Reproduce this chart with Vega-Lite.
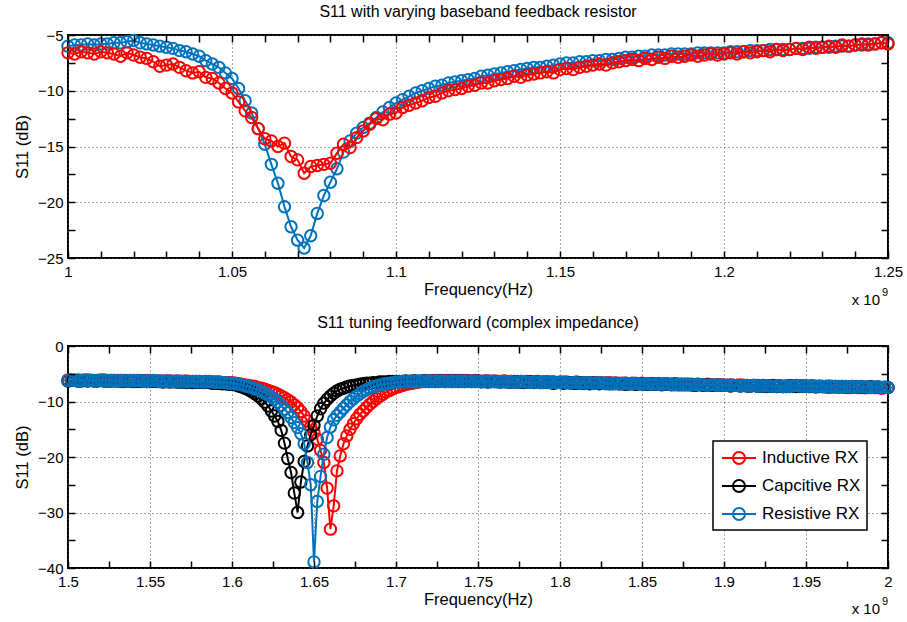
{
"$schema": "https://vega.github.io/schema/vega-lite/v6.json",
"padding": {"left": 13, "top": 3, "right": 5, "bottom": 5},
"config": {
  "font": "Liberation Sans",
  "view": {"stroke": "#000000", "strokeWidth": 2},
  "axis": {"labelFontSize": 15, "titleFontSize": 16.5, "titleFontWeight": "normal", "labelColor": "#000", "titleColor": "#000", "ticks": false, "tickSize": 0, "zindex": 0, "domain": false, "labelOverlap": false, "labelFlush": false, "labelBound": false, "gridColor": "#555", "gridDash": [1, 3], "gridWidth": 1}
},
"datasets": {
"fbB": [
{"f":1.000,"v":-6.0},{"f":1.002,"v":-5.9},{"f":1.004,"v":-5.9},{"f":1.006,"v":-5.8},{"f":1.008,"v":-5.9},{"f":1.010,"v":-5.8},{"f":1.012,"v":-5.8},{"f":1.014,"v":-5.7},{"f":1.016,"v":-5.7},{"f":1.018,"v":-5.6},
{"f":1.020,"v":-5.5},{"f":1.022,"v":-5.7},{"f":1.024,"v":-5.8},{"f":1.026,"v":-5.9},{"f":1.028,"v":-6.0},{"f":1.030,"v":-6.1},{"f":1.032,"v":-6.2},{"f":1.034,"v":-6.4},{"f":1.036,"v":-6.5},{"f":1.038,"v":-6.7},
{"f":1.040,"v":-6.9},{"f":1.042,"v":-7.3},{"f":1.044,"v":-7.6},{"f":1.046,"v":-7.9},{"f":1.048,"v":-8.4},{"f":1.050,"v":-8.9},{"f":1.052,"v":-9.8},{"f":1.054,"v":-10.9},{"f":1.056,"v":-12.0},{"f":1.058,"v":-13.4},
{"f":1.060,"v":-14.8},{"f":1.062,"v":-16.6},{"f":1.064,"v":-18.3},{"f":1.066,"v":-20.4},{"f":1.068,"v":-22.2},{"f":1.070,"v":-23.4},{"f":1.072,"v":-24.1},{"f":1.074,"v":-23.0},{"f":1.076,"v":-21.0},{"f":1.078,"v":-19.4},
{"f":1.080,"v":-18.2},{"f":1.082,"v":-17.0},{"f":1.084,"v":-15.5},{"f":1.086,"v":-14.5},{"f":1.088,"v":-13.8},{"f":1.090,"v":-13.3},{"f":1.092,"v":-12.9},{"f":1.094,"v":-12.4},{"f":1.096,"v":-11.9},{"f":1.098,"v":-11.5},
{"f":1.100,"v":-11.1},{"f":1.102,"v":-10.8},{"f":1.104,"v":-10.5},{"f":1.106,"v":-10.2},{"f":1.108,"v":-10.0},{"f":1.110,"v":-9.8},{"f":1.112,"v":-9.6},{"f":1.114,"v":-9.5},{"f":1.116,"v":-9.3},{"f":1.118,"v":-9.2},
{"f":1.120,"v":-9.1},{"f":1.122,"v":-9.0},{"f":1.124,"v":-8.9},{"f":1.126,"v":-8.7},{"f":1.128,"v":-8.6},{"f":1.130,"v":-8.5},{"f":1.132,"v":-8.4},{"f":1.134,"v":-8.3},{"f":1.136,"v":-8.2},{"f":1.138,"v":-8.1},
{"f":1.140,"v":-8.0},{"f":1.142,"v":-7.9},{"f":1.144,"v":-7.9},{"f":1.146,"v":-7.8},{"f":1.148,"v":-7.7},{"f":1.150,"v":-7.6},{"f":1.152,"v":-7.5},{"f":1.154,"v":-7.5},{"f":1.156,"v":-7.4},{"f":1.158,"v":-7.4},
{"f":1.160,"v":-7.3},{"f":1.162,"v":-7.3},{"f":1.164,"v":-7.2},{"f":1.166,"v":-7.2},{"f":1.168,"v":-7.1},{"f":1.170,"v":-7.0},{"f":1.172,"v":-7.0},{"f":1.174,"v":-6.9},{"f":1.176,"v":-6.9},{"f":1.178,"v":-6.8},
{"f":1.180,"v":-6.8},{"f":1.182,"v":-6.8},{"f":1.184,"v":-6.7},{"f":1.186,"v":-6.7},{"f":1.188,"v":-6.7},{"f":1.190,"v":-6.7},{"f":1.192,"v":-6.6},{"f":1.194,"v":-6.6},{"f":1.196,"v":-6.6},{"f":1.198,"v":-6.6},
{"f":1.200,"v":-6.6},{"f":1.202,"v":-6.5},{"f":1.204,"v":-6.5},{"f":1.206,"v":-6.5},{"f":1.208,"v":-6.4},{"f":1.210,"v":-6.4},{"f":1.212,"v":-6.4},{"f":1.214,"v":-6.3},{"f":1.216,"v":-6.3},{"f":1.218,"v":-6.3},
{"f":1.220,"v":-6.3},{"f":1.222,"v":-6.2},{"f":1.224,"v":-6.2},{"f":1.226,"v":-6.2},{"f":1.228,"v":-6.1},{"f":1.230,"v":-6.1},{"f":1.232,"v":-6.1},{"f":1.234,"v":-6.0},{"f":1.236,"v":-6.0},{"f":1.238,"v":-6.0},
{"f":1.240,"v":-5.9},{"f":1.242,"v":-5.9},{"f":1.244,"v":-5.8},{"f":1.246,"v":-5.8},{"f":1.248,"v":-5.7},{"f":1.250,"v":-5.7}
],
"fbR": [
{"f":1.000,"v":-6.6},{"f":1.002,"v":-6.7},{"f":1.004,"v":-6.5},{"f":1.006,"v":-6.6},{"f":1.008,"v":-6.7},{"f":1.010,"v":-6.5},{"f":1.012,"v":-6.6},{"f":1.014,"v":-6.7},{"f":1.016,"v":-6.9},{"f":1.018,"v":-6.6},
{"f":1.020,"v":-6.8},{"f":1.022,"v":-7.0},{"f":1.024,"v":-7.1},{"f":1.026,"v":-7.4},{"f":1.028,"v":-7.8},{"f":1.030,"v":-7.7},{"f":1.032,"v":-7.6},{"f":1.034,"v":-7.9},{"f":1.036,"v":-8.2},{"f":1.038,"v":-8.4},
{"f":1.040,"v":-8.3},{"f":1.042,"v":-8.8},{"f":1.044,"v":-8.9},{"f":1.046,"v":-9.3},{"f":1.048,"v":-9.8},{"f":1.050,"v":-10.2},{"f":1.052,"v":-11.0},{"f":1.054,"v":-11.8},{"f":1.056,"v":-12.4},{"f":1.058,"v":-13.4},
{"f":1.060,"v":-14.3},{"f":1.062,"v":-14.5},{"f":1.064,"v":-15.0},{"f":1.066,"v":-14.7},{"f":1.068,"v":-15.9},{"f":1.070,"v":-16.2},{"f":1.072,"v":-17.4},{"f":1.074,"v":-16.8},{"f":1.076,"v":-16.7},{"f":1.078,"v":-16.6},
{"f":1.080,"v":-16.5},{"f":1.082,"v":-15.6},{"f":1.084,"v":-14.8},{"f":1.086,"v":-15.1},{"f":1.088,"v":-14.2},{"f":1.090,"v":-13.6},{"f":1.092,"v":-13.0},{"f":1.094,"v":-12.5},{"f":1.096,"v":-12.6},{"f":1.098,"v":-12.1},
{"f":1.100,"v":-12.0},{"f":1.102,"v":-11.5},{"f":1.104,"v":-11.3},{"f":1.106,"v":-11.1},{"f":1.108,"v":-10.9},{"f":1.110,"v":-10.6},{"f":1.112,"v":-10.5},{"f":1.114,"v":-10.2},{"f":1.116,"v":-10.0},{"f":1.118,"v":-9.9},
{"f":1.120,"v":-9.8},{"f":1.122,"v":-9.6},{"f":1.124,"v":-9.5},{"f":1.126,"v":-9.3},{"f":1.128,"v":-9.3},{"f":1.130,"v":-9.1},{"f":1.132,"v":-9.0},{"f":1.134,"v":-8.9},{"f":1.136,"v":-8.7},{"f":1.138,"v":-8.8},
{"f":1.140,"v":-8.6},{"f":1.142,"v":-8.5},{"f":1.144,"v":-8.4},{"f":1.146,"v":-8.3},{"f":1.148,"v":-8.4},{"f":1.150,"v":-8.1},{"f":1.152,"v":-8.0},{"f":1.154,"v":-8.1},{"f":1.156,"v":-7.9},{"f":1.158,"v":-7.8},
{"f":1.160,"v":-7.7},{"f":1.162,"v":-7.6},{"f":1.164,"v":-7.7},{"f":1.166,"v":-7.5},{"f":1.168,"v":-7.4},{"f":1.170,"v":-7.3},{"f":1.172,"v":-7.2},{"f":1.174,"v":-7.3},{"f":1.176,"v":-7.1},{"f":1.178,"v":-7.2},
{"f":1.180,"v":-7.0},{"f":1.182,"v":-7.1},{"f":1.184,"v":-6.9},{"f":1.186,"v":-7.0},{"f":1.188,"v":-6.9},{"f":1.190,"v":-6.8},{"f":1.192,"v":-6.9},{"f":1.194,"v":-6.8},{"f":1.196,"v":-6.7},{"f":1.198,"v":-6.8},
{"f":1.200,"v":-6.7},{"f":1.202,"v":-6.6},{"f":1.204,"v":-6.7},{"f":1.206,"v":-6.5},{"f":1.208,"v":-6.6},{"f":1.210,"v":-6.5},{"f":1.212,"v":-6.4},{"f":1.214,"v":-6.5},{"f":1.216,"v":-6.3},{"f":1.218,"v":-6.4},
{"f":1.220,"v":-6.3},{"f":1.222,"v":-6.2},{"f":1.224,"v":-6.3},{"f":1.226,"v":-6.1},{"f":1.228,"v":-6.2},{"f":1.230,"v":-6.1},{"f":1.232,"v":-6.0},{"f":1.234,"v":-6.1},{"f":1.236,"v":-5.9},{"f":1.238,"v":-6.0},
{"f":1.240,"v":-5.9},{"f":1.242,"v":-5.8},{"f":1.244,"v":-5.9},{"f":1.246,"v":-5.8},{"f":1.248,"v":-5.7},{"f":1.250,"v":-5.8}
],
"ind": [
{"f":1.500,"v":-6.1},{"f":1.502,"v":-6.2},{"f":1.504,"v":-6.2},{"f":1.506,"v":-6.1},{"f":1.508,"v":-6.2},{"f":1.510,"v":-6.2},{"f":1.512,"v":-6.1},{"f":1.514,"v":-6.2},{"f":1.516,"v":-6.2},{"f":1.518,"v":-6.2},
{"f":1.520,"v":-6.2},{"f":1.522,"v":-6.1},{"f":1.524,"v":-6.2},{"f":1.526,"v":-6.2},{"f":1.528,"v":-6.3},{"f":1.530,"v":-6.2},{"f":1.532,"v":-6.2},{"f":1.534,"v":-6.2},{"f":1.536,"v":-6.3},{"f":1.538,"v":-6.2},
{"f":1.540,"v":-6.2},{"f":1.542,"v":-6.3},{"f":1.544,"v":-6.2},{"f":1.546,"v":-6.3},{"f":1.548,"v":-6.3},{"f":1.550,"v":-6.2},{"f":1.552,"v":-6.3},{"f":1.554,"v":-6.3},{"f":1.556,"v":-6.3},{"f":1.558,"v":-6.4},
{"f":1.560,"v":-6.3},{"f":1.562,"v":-6.3},{"f":1.564,"v":-6.4},{"f":1.566,"v":-6.3},{"f":1.568,"v":-6.4},{"f":1.570,"v":-6.4},{"f":1.572,"v":-6.3},{"f":1.574,"v":-6.4},{"f":1.576,"v":-6.4},{"f":1.578,"v":-6.4},
{"f":1.580,"v":-6.4},{"f":1.582,"v":-6.5},{"f":1.584,"v":-6.4},{"f":1.586,"v":-6.5},{"f":1.588,"v":-6.5},{"f":1.590,"v":-6.5},{"f":1.592,"v":-6.5},{"f":1.594,"v":-6.6},{"f":1.596,"v":-6.6},{"f":1.598,"v":-6.6},
{"f":1.600,"v":-6.6},{"f":1.602,"v":-6.7},{"f":1.604,"v":-6.8},{"f":1.606,"v":-6.9},{"f":1.608,"v":-7.0},{"f":1.610,"v":-7.1},{"f":1.612,"v":-7.2},{"f":1.614,"v":-7.3},{"f":1.616,"v":-7.5},{"f":1.618,"v":-7.6},
{"f":1.620,"v":-7.8},{"f":1.622,"v":-8.0},{"f":1.624,"v":-8.2},{"f":1.626,"v":-8.4},{"f":1.628,"v":-8.7},{"f":1.630,"v":-9.0},{"f":1.632,"v":-9.3},{"f":1.634,"v":-9.7},{"f":1.636,"v":-10.1},{"f":1.638,"v":-10.6},
{"f":1.640,"v":-11.1},{"f":1.642,"v":-11.8},{"f":1.644,"v":-12.6},{"f":1.646,"v":-13.5},{"f":1.648,"v":-14.5},{"f":1.650,"v":-15.6},{"f":1.652,"v":-16.8},{"f":1.654,"v":-18.8},{"f":1.656,"v":-21.0},{"f":1.658,"v":-25.6},
{"f":1.660,"v":-33.0},{"f":1.662,"v":-28.8},{"f":1.664,"v":-22.5},{"f":1.666,"v":-19.8},{"f":1.668,"v":-17.6},{"f":1.670,"v":-16.2},{"f":1.672,"v":-15.0},{"f":1.674,"v":-14.0},{"f":1.676,"v":-13.1},{"f":1.678,"v":-12.3},
{"f":1.680,"v":-11.7},{"f":1.682,"v":-11.1},{"f":1.684,"v":-10.5},{"f":1.686,"v":-10.0},{"f":1.688,"v":-9.5},{"f":1.690,"v":-9.1},{"f":1.692,"v":-8.7},{"f":1.694,"v":-8.3},{"f":1.696,"v":-8.0},{"f":1.698,"v":-7.7},
{"f":1.700,"v":-7.5},{"f":1.702,"v":-7.3},{"f":1.704,"v":-7.1},{"f":1.706,"v":-6.9},{"f":1.708,"v":-6.8},{"f":1.710,"v":-6.7},{"f":1.712,"v":-6.6},{"f":1.714,"v":-6.5},{"f":1.716,"v":-6.4},{"f":1.718,"v":-6.3},
{"f":1.720,"v":-6.3},{"f":1.722,"v":-6.3},{"f":1.724,"v":-6.2},{"f":1.726,"v":-6.3},{"f":1.728,"v":-6.2},{"f":1.730,"v":-6.2},{"f":1.732,"v":-6.3},{"f":1.734,"v":-6.2},{"f":1.736,"v":-6.3},{"f":1.738,"v":-6.2},
{"f":1.740,"v":-6.3},{"f":1.742,"v":-6.2},{"f":1.744,"v":-6.3},{"f":1.746,"v":-6.3},{"f":1.748,"v":-6.2},{"f":1.750,"v":-6.3},{"f":1.752,"v":-6.4},{"f":1.754,"v":-6.3},{"f":1.756,"v":-6.3},{"f":1.758,"v":-6.4},
{"f":1.760,"v":-6.3},{"f":1.762,"v":-6.4},{"f":1.764,"v":-6.4},{"f":1.766,"v":-6.3},{"f":1.768,"v":-6.4},{"f":1.770,"v":-6.4},{"f":1.772,"v":-6.5},{"f":1.774,"v":-6.4},{"f":1.776,"v":-6.4},{"f":1.778,"v":-6.5},
{"f":1.780,"v":-6.4},{"f":1.782,"v":-6.5},{"f":1.784,"v":-6.5},{"f":1.786,"v":-6.4},{"f":1.788,"v":-6.5},{"f":1.790,"v":-6.5},{"f":1.792,"v":-6.6},{"f":1.794,"v":-6.5},{"f":1.796,"v":-6.5},{"f":1.798,"v":-6.6},
{"f":1.800,"v":-6.5},{"f":1.802,"v":-6.6},{"f":1.804,"v":-6.5},{"f":1.806,"v":-6.6},{"f":1.808,"v":-6.6},{"f":1.810,"v":-6.5},{"f":1.812,"v":-6.6},{"f":1.814,"v":-6.6},{"f":1.816,"v":-6.7},{"f":1.818,"v":-6.6},
{"f":1.820,"v":-6.6},{"f":1.822,"v":-6.7},{"f":1.824,"v":-6.6},{"f":1.826,"v":-6.7},{"f":1.828,"v":-6.7},{"f":1.830,"v":-6.6},{"f":1.832,"v":-6.7},{"f":1.834,"v":-6.7},{"f":1.836,"v":-6.8},{"f":1.838,"v":-6.7},
{"f":1.840,"v":-6.7},{"f":1.842,"v":-6.8},{"f":1.844,"v":-6.7},{"f":1.846,"v":-6.8},{"f":1.848,"v":-6.8},{"f":1.850,"v":-6.7},{"f":1.852,"v":-6.8},{"f":1.854,"v":-6.8},{"f":1.856,"v":-6.9},{"f":1.858,"v":-6.8},
{"f":1.860,"v":-6.8},{"f":1.862,"v":-6.9},{"f":1.864,"v":-6.8},{"f":1.866,"v":-6.9},{"f":1.868,"v":-6.9},{"f":1.870,"v":-6.8},{"f":1.872,"v":-6.9},{"f":1.874,"v":-6.9},{"f":1.876,"v":-7.0},{"f":1.878,"v":-6.9},
{"f":1.880,"v":-6.9},{"f":1.882,"v":-7.0},{"f":1.884,"v":-6.9},{"f":1.886,"v":-7.0},{"f":1.888,"v":-7.0},{"f":1.890,"v":-6.9},{"f":1.892,"v":-7.0},{"f":1.894,"v":-7.0},{"f":1.896,"v":-7.1},{"f":1.898,"v":-7.0},
{"f":1.900,"v":-7.0},{"f":1.902,"v":-7.1},{"f":1.904,"v":-7.0},{"f":1.906,"v":-7.1},{"f":1.908,"v":-7.1},{"f":1.910,"v":-7.0},{"f":1.912,"v":-7.1},{"f":1.914,"v":-7.1},{"f":1.916,"v":-7.2},{"f":1.918,"v":-7.1},
{"f":1.920,"v":-7.1},{"f":1.922,"v":-7.2},{"f":1.924,"v":-7.1},{"f":1.926,"v":-7.2},{"f":1.928,"v":-7.2},{"f":1.930,"v":-7.1},{"f":1.932,"v":-7.2},{"f":1.934,"v":-7.2},{"f":1.936,"v":-7.3},{"f":1.938,"v":-7.2},
{"f":1.940,"v":-7.2},{"f":1.942,"v":-7.3},{"f":1.944,"v":-7.2},{"f":1.946,"v":-7.3},{"f":1.948,"v":-7.3},{"f":1.950,"v":-7.2},{"f":1.952,"v":-7.3},{"f":1.954,"v":-7.3},{"f":1.956,"v":-7.4},{"f":1.958,"v":-7.3},
{"f":1.960,"v":-7.3},{"f":1.962,"v":-7.4},{"f":1.964,"v":-7.3},{"f":1.966,"v":-7.4},{"f":1.968,"v":-7.4},{"f":1.970,"v":-7.3},{"f":1.972,"v":-7.4},{"f":1.974,"v":-7.4},{"f":1.976,"v":-7.5},{"f":1.978,"v":-7.4},
{"f":1.980,"v":-7.4},{"f":1.982,"v":-7.5},{"f":1.984,"v":-7.4},{"f":1.986,"v":-7.5},{"f":1.988,"v":-7.5},{"f":1.990,"v":-7.4},{"f":1.992,"v":-7.5},{"f":1.994,"v":-7.5},{"f":1.996,"v":-7.6},{"f":1.998,"v":-7.5},
{"f":2.000,"v":-7.5}
],
"cap": [
{"f":1.500,"v":-6.3},{"f":1.502,"v":-6.2},{"f":1.504,"v":-6.2},{"f":1.506,"v":-6.3},{"f":1.508,"v":-6.3},{"f":1.510,"v":-6.2},{"f":1.512,"v":-6.3},{"f":1.514,"v":-6.2},{"f":1.516,"v":-6.3},{"f":1.518,"v":-6.3},
{"f":1.520,"v":-6.2},{"f":1.522,"v":-6.3},{"f":1.524,"v":-6.3},{"f":1.526,"v":-6.3},{"f":1.528,"v":-6.2},{"f":1.530,"v":-6.3},{"f":1.532,"v":-6.3},{"f":1.534,"v":-6.4},{"f":1.536,"v":-6.3},{"f":1.538,"v":-6.3},
{"f":1.540,"v":-6.4},{"f":1.542,"v":-6.3},{"f":1.544,"v":-6.4},{"f":1.546,"v":-6.3},{"f":1.548,"v":-6.4},{"f":1.550,"v":-6.4},{"f":1.552,"v":-6.3},{"f":1.554,"v":-6.4},{"f":1.556,"v":-6.4},{"f":1.558,"v":-6.5},
{"f":1.560,"v":-6.4},{"f":1.562,"v":-6.5},{"f":1.564,"v":-6.4},{"f":1.566,"v":-6.5},{"f":1.568,"v":-6.5},{"f":1.570,"v":-6.5},{"f":1.572,"v":-6.6},{"f":1.574,"v":-6.5},{"f":1.576,"v":-6.6},{"f":1.578,"v":-6.6},
{"f":1.580,"v":-6.5},{"f":1.582,"v":-6.6},{"f":1.584,"v":-6.6},{"f":1.586,"v":-6.6},{"f":1.588,"v":-6.7},{"f":1.590,"v":-6.7},{"f":1.592,"v":-6.7},{"f":1.594,"v":-6.8},{"f":1.596,"v":-6.8},{"f":1.598,"v":-6.9},
{"f":1.600,"v":-6.9},{"f":1.602,"v":-7.0},{"f":1.604,"v":-7.2},{"f":1.606,"v":-7.4},{"f":1.608,"v":-7.6},{"f":1.610,"v":-7.9},{"f":1.612,"v":-8.2},{"f":1.614,"v":-8.6},{"f":1.616,"v":-9.0},{"f":1.618,"v":-9.5},
{"f":1.620,"v":-10.1},{"f":1.622,"v":-10.8},{"f":1.624,"v":-11.7},{"f":1.626,"v":-12.6},{"f":1.628,"v":-13.6},{"f":1.630,"v":-15.2},{"f":1.632,"v":-17.5},{"f":1.634,"v":-20.3},{"f":1.636,"v":-22.8},{"f":1.638,"v":-26.5},
{"f":1.640,"v":-30.0},{"f":1.642,"v":-24.5},{"f":1.644,"v":-20.8},{"f":1.646,"v":-18.0},{"f":1.648,"v":-16.0},{"f":1.650,"v":-14.3},{"f":1.652,"v":-12.6},{"f":1.654,"v":-11.3},{"f":1.656,"v":-10.3},{"f":1.658,"v":-9.6},
{"f":1.660,"v":-9.0},{"f":1.662,"v":-8.5},{"f":1.664,"v":-8.1},{"f":1.666,"v":-7.8},{"f":1.668,"v":-7.6},{"f":1.670,"v":-7.4},{"f":1.672,"v":-7.2},{"f":1.674,"v":-7.1},{"f":1.676,"v":-7.0},{"f":1.678,"v":-6.9},
{"f":1.680,"v":-6.8},{"f":1.682,"v":-6.7},{"f":1.684,"v":-6.7},{"f":1.686,"v":-6.6},{"f":1.688,"v":-6.6},{"f":1.690,"v":-6.5},{"f":1.692,"v":-6.5},{"f":1.694,"v":-6.5},{"f":1.696,"v":-6.4},{"f":1.698,"v":-6.4},
{"f":1.700,"v":-6.4},
{"f":1.702,"v":-6.4},{"f":1.704,"v":-6.4},{"f":1.706,"v":-6.3},{"f":1.708,"v":-6.4},{"f":1.710,"v":-6.3},{"f":1.712,"v":-6.3},{"f":1.714,"v":-6.4},{"f":1.716,"v":-6.3},{"f":1.718,"v":-6.3},{"f":1.720,"v":-6.4},
{"f":1.722,"v":-6.3},{"f":1.724,"v":-6.4},{"f":1.726,"v":-6.3},{"f":1.728,"v":-6.3},{"f":1.730,"v":-6.4},{"f":1.732,"v":-6.3},{"f":1.734,"v":-6.4},{"f":1.736,"v":-6.3},{"f":1.738,"v":-6.4},{"f":1.740,"v":-6.3},
{"f":1.742,"v":-6.4},{"f":1.744,"v":-6.3},{"f":1.746,"v":-6.4},{"f":1.748,"v":-6.4},{"f":1.750,"v":-6.3},{"f":1.752,"v":-6.4},{"f":1.754,"v":-6.4},{"f":1.756,"v":-6.5},{"f":1.758,"v":-6.4},{"f":1.760,"v":-6.4},
{"f":1.762,"v":-6.4},{"f":1.764,"v":-6.5},{"f":1.766,"v":-6.4},{"f":1.768,"v":-6.5},{"f":1.770,"v":-6.5},{"f":1.772,"v":-6.4},{"f":1.774,"v":-6.5},{"f":1.776,"v":-6.5},{"f":1.778,"v":-6.6},{"f":1.780,"v":-6.5},
{"f":1.782,"v":-6.5},{"f":1.784,"v":-6.6},{"f":1.786,"v":-6.5},{"f":1.788,"v":-6.6},{"f":1.790,"v":-6.6},{"f":1.792,"v":-6.5},{"f":1.794,"v":-6.6},{"f":1.796,"v":-6.7},{"f":1.798,"v":-6.6},{"f":1.800,"v":-6.6},
{"f":1.802,"v":-6.7},{"f":1.804,"v":-6.6},{"f":1.806,"v":-6.6},{"f":1.808,"v":-6.7},{"f":1.810,"v":-6.7},{"f":1.812,"v":-6.6},{"f":1.814,"v":-6.7},{"f":1.816,"v":-6.7},{"f":1.818,"v":-6.8},{"f":1.820,"v":-6.7},
{"f":1.822,"v":-6.7},{"f":1.824,"v":-6.8},{"f":1.826,"v":-6.7},{"f":1.828,"v":-6.7},{"f":1.830,"v":-6.8},{"f":1.832,"v":-6.8},{"f":1.834,"v":-6.7},{"f":1.836,"v":-6.8},{"f":1.838,"v":-6.8},{"f":1.840,"v":-6.9},
{"f":1.842,"v":-6.8},{"f":1.844,"v":-6.8},{"f":1.846,"v":-6.9},{"f":1.848,"v":-6.8},{"f":1.850,"v":-6.8},{"f":1.852,"v":-6.9},{"f":1.854,"v":-6.9},{"f":1.856,"v":-6.8},{"f":1.858,"v":-6.9},{"f":1.860,"v":-6.9},
{"f":1.862,"v":-7.0},{"f":1.864,"v":-6.9},{"f":1.866,"v":-6.9},{"f":1.868,"v":-7.0},{"f":1.870,"v":-6.9},{"f":1.872,"v":-7.0},{"f":1.874,"v":-7.0},{"f":1.876,"v":-6.9},{"f":1.878,"v":-7.0},{"f":1.880,"v":-7.0},
{"f":1.882,"v":-7.1},{"f":1.884,"v":-7.0},{"f":1.886,"v":-7.0},{"f":1.888,"v":-7.1},{"f":1.890,"v":-7.0},{"f":1.892,"v":-7.1},{"f":1.894,"v":-7.1},{"f":1.896,"v":-7.0},{"f":1.898,"v":-7.1},{"f":1.900,"v":-7.1},
{"f":1.902,"v":-7.1},{"f":1.904,"v":-7.2},{"f":1.906,"v":-7.1},{"f":1.908,"v":-7.1},{"f":1.910,"v":-7.2},{"f":1.912,"v":-7.1},{"f":1.914,"v":-7.2},{"f":1.916,"v":-7.2},{"f":1.918,"v":-7.1},{"f":1.920,"v":-7.2},
{"f":1.922,"v":-7.2},{"f":1.924,"v":-7.2},{"f":1.926,"v":-7.3},{"f":1.928,"v":-7.2},{"f":1.930,"v":-7.2},{"f":1.932,"v":-7.3},{"f":1.934,"v":-7.2},{"f":1.936,"v":-7.3},{"f":1.938,"v":-7.3},{"f":1.940,"v":-7.2},
{"f":1.942,"v":-7.2},{"f":1.944,"v":-7.3},{"f":1.946,"v":-7.2},{"f":1.948,"v":-7.2},{"f":1.950,"v":-7.3},{"f":1.952,"v":-7.3},{"f":1.954,"v":-7.2},{"f":1.956,"v":-7.3},{"f":1.958,"v":-7.3},{"f":1.960,"v":-7.3},
{"f":1.962,"v":-7.3},{"f":1.964,"v":-7.4},{"f":1.966,"v":-7.3},{"f":1.968,"v":-7.3},{"f":1.970,"v":-7.4},{"f":1.972,"v":-7.3},{"f":1.974,"v":-7.4},{"f":1.976,"v":-7.4},{"f":1.978,"v":-7.3},{"f":1.980,"v":-7.4},
{"f":1.982,"v":-7.4},{"f":1.984,"v":-7.4},{"f":1.986,"v":-7.5},{"f":1.988,"v":-7.4},{"f":1.990,"v":-7.4},{"f":1.992,"v":-7.5},{"f":1.994,"v":-7.4},{"f":1.996,"v":-7.5},{"f":1.998,"v":-7.5},{"f":2.000,"v":-7.5}
],
"res": [
{"f":1.500,"v":-6.2},{"f":1.502,"v":-6.1},{"f":1.504,"v":-6.2},{"f":1.506,"v":-6.3},{"f":1.508,"v":-6.2},{"f":1.510,"v":-6.1},{"f":1.512,"v":-6.2},{"f":1.514,"v":-6.2},{"f":1.516,"v":-6.3},{"f":1.518,"v":-6.2},
{"f":1.520,"v":-6.1},{"f":1.522,"v":-6.2},{"f":1.524,"v":-6.3},{"f":1.526,"v":-6.2},{"f":1.528,"v":-6.2},{"f":1.530,"v":-6.3},{"f":1.532,"v":-6.2},{"f":1.534,"v":-6.3},{"f":1.536,"v":-6.3},{"f":1.538,"v":-6.2},
{"f":1.540,"v":-6.3},{"f":1.542,"v":-6.2},{"f":1.544,"v":-6.3},{"f":1.546,"v":-6.3},{"f":1.548,"v":-6.4},{"f":1.550,"v":-6.3},{"f":1.552,"v":-6.2},{"f":1.554,"v":-6.3},{"f":1.556,"v":-6.4},{"f":1.558,"v":-6.3},
{"f":1.560,"v":-6.4},{"f":1.562,"v":-6.3},{"f":1.564,"v":-6.4},{"f":1.566,"v":-6.4},{"f":1.568,"v":-6.3},{"f":1.570,"v":-6.4},{"f":1.572,"v":-6.5},{"f":1.574,"v":-6.4},{"f":1.576,"v":-6.4},{"f":1.578,"v":-6.5},
{"f":1.580,"v":-6.4},{"f":1.582,"v":-6.5},{"f":1.584,"v":-6.5},{"f":1.586,"v":-6.4},{"f":1.588,"v":-6.5},{"f":1.590,"v":-6.6},{"f":1.592,"v":-6.5},{"f":1.594,"v":-6.6},{"f":1.596,"v":-6.6},{"f":1.598,"v":-6.7},
{"f":1.600,"v":-6.7},{"f":1.602,"v":-6.8},{"f":1.604,"v":-6.9},{"f":1.606,"v":-7.0},{"f":1.608,"v":-7.2},{"f":1.610,"v":-7.3},{"f":1.612,"v":-7.5},{"f":1.614,"v":-7.7},{"f":1.616,"v":-7.9},{"f":1.618,"v":-8.2},
{"f":1.620,"v":-8.5},{"f":1.622,"v":-8.8},{"f":1.624,"v":-9.2},{"f":1.626,"v":-9.6},{"f":1.628,"v":-10.1},{"f":1.630,"v":-10.7},{"f":1.632,"v":-11.4},{"f":1.634,"v":-12.0},{"f":1.636,"v":-12.9},{"f":1.638,"v":-13.8},
{"f":1.640,"v":-14.7},{"f":1.642,"v":-15.8},{"f":1.644,"v":-17.6},{"f":1.646,"v":-21.0},{"f":1.648,"v":-25.0},{"f":1.650,"v":-38.9},{"f":1.652,"v":-28.0},{"f":1.654,"v":-23.5},{"f":1.656,"v":-19.5},{"f":1.658,"v":-16.5},
{"f":1.660,"v":-14.6},{"f":1.662,"v":-13.3},{"f":1.664,"v":-12.5},{"f":1.666,"v":-11.9},{"f":1.668,"v":-11.2},{"f":1.670,"v":-10.6},{"f":1.672,"v":-10.0},{"f":1.674,"v":-9.5},{"f":1.676,"v":-9.0},{"f":1.678,"v":-8.6},
{"f":1.680,"v":-8.2},{"f":1.682,"v":-7.9},{"f":1.684,"v":-7.6},{"f":1.686,"v":-7.4},{"f":1.688,"v":-7.2},{"f":1.690,"v":-7.0},{"f":1.692,"v":-6.9},{"f":1.694,"v":-6.8},{"f":1.696,"v":-6.7},{"f":1.698,"v":-6.6},
{"f":1.700,"v":-6.5},
{"f":1.702,"v":-6.5},{"f":1.704,"v":-6.4},{"f":1.706,"v":-6.5},{"f":1.708,"v":-6.4},{"f":1.710,"v":-6.4},{"f":1.712,"v":-6.5},{"f":1.714,"v":-6.3},{"f":1.716,"v":-6.4},{"f":1.718,"v":-6.4},{"f":1.720,"v":-6.3},
{"f":1.722,"v":-6.4},{"f":1.724,"v":-6.3},{"f":1.726,"v":-6.4},{"f":1.728,"v":-6.3},{"f":1.730,"v":-6.4},{"f":1.732,"v":-6.4},{"f":1.734,"v":-6.3},{"f":1.736,"v":-6.4},{"f":1.738,"v":-6.3},{"f":1.740,"v":-6.4},
{"f":1.742,"v":-6.3},{"f":1.744,"v":-6.4},{"f":1.746,"v":-6.4},{"f":1.748,"v":-6.3},{"f":1.750,"v":-6.4},{"f":1.752,"v":-6.5},{"f":1.754,"v":-6.4},{"f":1.756,"v":-6.3},{"f":1.758,"v":-6.4},{"f":1.760,"v":-6.4},
{"f":1.762,"v":-6.5},{"f":1.764,"v":-6.4},{"f":1.766,"v":-6.4},{"f":1.768,"v":-6.5},{"f":1.770,"v":-6.4},{"f":1.772,"v":-6.5},{"f":1.774,"v":-6.5},{"f":1.776,"v":-6.4},{"f":1.778,"v":-6.5},{"f":1.780,"v":-6.5},
{"f":1.782,"v":-6.6},{"f":1.784,"v":-6.5},{"f":1.786,"v":-6.5},{"f":1.788,"v":-6.6},{"f":1.790,"v":-6.5},{"f":1.792,"v":-6.6},{"f":1.794,"v":-6.6},{"f":1.796,"v":-6.5},{"f":1.798,"v":-6.6},{"f":1.800,"v":-6.6},
{"f":1.802,"v":-6.5},{"f":1.804,"v":-6.6},{"f":1.806,"v":-6.7},{"f":1.808,"v":-6.6},{"f":1.810,"v":-6.6},{"f":1.812,"v":-6.7},{"f":1.814,"v":-6.6},{"f":1.816,"v":-6.7},{"f":1.818,"v":-6.6},{"f":1.820,"v":-6.7},
{"f":1.822,"v":-6.7},{"f":1.824,"v":-6.6},{"f":1.826,"v":-6.7},{"f":1.828,"v":-6.8},{"f":1.830,"v":-6.7},{"f":1.832,"v":-6.7},{"f":1.834,"v":-6.8},{"f":1.836,"v":-6.7},{"f":1.838,"v":-6.8},{"f":1.840,"v":-6.7},
{"f":1.842,"v":-6.8},{"f":1.844,"v":-6.8},{"f":1.846,"v":-6.7},{"f":1.848,"v":-6.8},{"f":1.850,"v":-6.9},{"f":1.852,"v":-6.8},{"f":1.854,"v":-6.8},{"f":1.856,"v":-6.9},{"f":1.858,"v":-6.8},{"f":1.860,"v":-6.9},
{"f":1.862,"v":-6.9},{"f":1.864,"v":-6.8},{"f":1.866,"v":-6.9},{"f":1.868,"v":-6.9},{"f":1.870,"v":-7.0},{"f":1.872,"v":-6.9},{"f":1.874,"v":-6.9},{"f":1.876,"v":-7.0},{"f":1.878,"v":-6.9},{"f":1.880,"v":-7.0},
{"f":1.882,"v":-7.0},{"f":1.884,"v":-6.9},{"f":1.886,"v":-7.0},{"f":1.888,"v":-7.0},{"f":1.890,"v":-7.1},{"f":1.892,"v":-7.0},{"f":1.894,"v":-7.0},{"f":1.896,"v":-7.1},{"f":1.898,"v":-7.0},{"f":1.900,"v":-7.1},
{"f":1.902,"v":-7.1},{"f":1.904,"v":-7.0},{"f":1.906,"v":-7.1},{"f":1.908,"v":-7.1},{"f":1.910,"v":-7.2},{"f":1.912,"v":-7.1},{"f":1.914,"v":-7.1},{"f":1.916,"v":-7.2},{"f":1.918,"v":-7.1},{"f":1.920,"v":-7.2},
{"f":1.922,"v":-7.2},{"f":1.924,"v":-7.1},{"f":1.926,"v":-7.2},{"f":1.928,"v":-7.2},{"f":1.930,"v":-7.3},{"f":1.932,"v":-7.2},{"f":1.934,"v":-7.2},{"f":1.936,"v":-7.3},{"f":1.938,"v":-7.2},{"f":1.940,"v":-7.3},
{"f":1.942,"v":-7.2},{"f":1.944,"v":-7.1},{"f":1.946,"v":-7.2},{"f":1.948,"v":-7.2},{"f":1.950,"v":-7.3},{"f":1.952,"v":-7.2},{"f":1.954,"v":-7.2},{"f":1.956,"v":-7.3},{"f":1.958,"v":-7.2},{"f":1.960,"v":-7.3},
{"f":1.962,"v":-7.3},{"f":1.964,"v":-7.2},{"f":1.966,"v":-7.3},{"f":1.968,"v":-7.3},{"f":1.970,"v":-7.4},{"f":1.972,"v":-7.3},{"f":1.974,"v":-7.3},{"f":1.976,"v":-7.4},{"f":1.978,"v":-7.3},{"f":1.980,"v":-7.4},
{"f":1.982,"v":-7.4},{"f":1.984,"v":-7.3},{"f":1.986,"v":-7.4},{"f":1.988,"v":-7.4},{"f":1.990,"v":-7.5},{"f":1.992,"v":-7.4},{"f":1.994,"v":-7.4},{"f":1.996,"v":-7.5},{"f":1.998,"v":-7.4},{"f":2.000,"v":-7.5}
]
},
"spacing": 88,
"bounds": "flush",
"resolve": {"scale": {"color": "independent"}, "legend": {"color": "independent"}},
"vconcat": [
{
  "width": 820, "height": 223,
  "title": {"text": "S11 with varying baseband feedback resistor", "frame": "group", "anchor": "middle", "fontSize": 16, "fontWeight": "normal", "color": "#000", "offset": 8},
  "resolve": {"scale": {"x": "independent", "y": "independent"}, "axis": {"x": "independent", "y": "independent"}},
  "layer": [
    {"data": {"name": "fbB"}, "mark": {"type": "line", "color": "#0072BD", "strokeWidth": 2},
     "encoding": {
       "x": {"field": "f", "type": "quantitative", "scale": {"domain": [1, 1.25], "nice": false, "zero": false},
             "axis": {"orient": "bottom", "title": "Frequency(Hz)", "titlePadding": 2,
                      "values": [1,1.01,1.02,1.03,1.04,1.05,1.06,1.07,1.08,1.09,1.1,1.11,1.12,1.13,1.14,1.15,1.16,1.17,1.18,1.19,1.2,1.21,1.22,1.23,1.24,1.25],
                      "labelExpr": "abs(datum.value*20 - round(datum.value*20)) < 0.001 ? format(datum.value, '~g') : ''",
                      "labelPadding": 6, "grid": true,
                      "gridOpacity": {"condition": {"test": "abs(datum.value*20 - round(datum.value*20)) < 0.001", "value": 1}, "value": 0}}},
       "y": {"field": "v", "type": "quantitative", "scale": {"domain": [-25, -5], "nice": false, "zero": false},
             "axis": {"orient": "left", "title": "S11 (dB)", "titlePadding": 7,
                      "values": [-25,-22.5,-20,-17.5,-15,-12.5,-10,-7.5,-5],
                      "labelExpr": "datum.value % 5 == 0 ? format(datum.value, 'd') : ''",
                      "labelPadding": 5, "grid": true,
                      "gridOpacity": {"condition": {"test": "datum.value % 5 == 0", "value": 1}, "value": 0}}}
     }},
    {"data": {"name": "fbB"}, "mark": {"type": "point", "shape": "circle", "filled": false, "color": "#0072BD", "size": 130, "strokeWidth": 2, "opacity": 1},
     "encoding": {
       "x": {"field": "f", "type": "quantitative", "scale": {"domain": [1, 1.25], "nice": false, "zero": false},
             "axis": {"orient": "top", "title": null, "labels": false, "zindex": 1, "grid": true, "gridDash": [7, 209, 7, 2000], "gridColor": "#000", "gridWidth": 1.5, "gridOpacity": 1,
                      "values": [1,1.01,1.02,1.03,1.04,1.05,1.06,1.07,1.08,1.09,1.1,1.11,1.12,1.13,1.14,1.15,1.16,1.17,1.18,1.19,1.2,1.21,1.22,1.23,1.24,1.25]}},
       "y": {"field": "v", "type": "quantitative", "scale": {"domain": [-25, -5], "nice": false, "zero": false},
             "axis": {"orient": "right", "title": null, "labels": false, "zindex": 1, "grid": true, "gridDash": [7, 806, 7, 2000], "gridColor": "#000", "gridWidth": 1.5, "gridOpacity": 1,
                      "values": [-25,-22.5,-20,-17.5,-15,-12.5,-10,-7.5,-5]}}
     }},
    {"data": {"name": "fbR"}, "mark": {"type": "line", "color": "#FF0000", "strokeWidth": 2},
     "encoding": {"x": {"field": "f", "type": "quantitative", "scale": {"domain": [1, 1.25], "nice": false, "zero": false}, "axis": null}, "y": {"field": "v", "type": "quantitative", "scale": {"domain": [-25, -5], "nice": false, "zero": false}, "axis": null}}},
    {"data": {"name": "fbR"}, "mark": {"type": "point", "shape": "circle", "filled": false, "color": "#FF0000", "size": 130, "strokeWidth": 2, "opacity": 1},
     "encoding": {"x": {"field": "f", "type": "quantitative", "scale": {"domain": [1, 1.25], "nice": false, "zero": false}, "axis": null}, "y": {"field": "v", "type": "quantitative", "scale": {"domain": [-25, -5], "nice": false, "zero": false}, "axis": null}}},
    {"data": {"values": [{"t": "x 10"}]}, "mark": {"type": "text", "align": "right", "baseline": "middle", "dx": -8, "fontSize": 15, "color": "#000"},
     "encoding": {"x": {"datum": 1.25, "type": "quantitative", "scale": {"domain": [1, 1.25], "nice": false, "zero": false}, "axis": null}, "y": {"datum": -28.77, "type": "quantitative", "scale": {"domain": [-25, -5], "nice": false, "zero": false}, "axis": null}, "text": {"field": "t"}}},
    {"data": {"values": [{"t": "9"}]}, "mark": {"type": "text", "align": "left", "baseline": "middle", "dx": -6, "fontSize": 11, "color": "#000"},
     "encoding": {"x": {"datum": 1.25, "type": "quantitative", "scale": {"domain": [1, 1.25], "nice": false, "zero": false}, "axis": null}, "y": {"datum": -28.14, "type": "quantitative", "scale": {"domain": [-25, -5], "nice": false, "zero": false}, "axis": null}, "text": {"field": "t"}}}
  ]
},
{
  "width": 820, "height": 222,
  "title": {"text": "S11 tuning feedforward (complex impedance)", "frame": "group", "anchor": "middle", "fontSize": 16, "fontWeight": "normal", "color": "#000", "offset": 8},
  "resolve": {"scale": {"x": "independent", "y": "independent"}, "axis": {"x": "independent", "y": "independent"}},
  "layer": [
    {"data": {"name": "ind"}, "mark": {"type": "line", "strokeWidth": 2},
     "encoding": {
       "x": {"field": "f", "type": "quantitative", "scale": {"domain": [1.5, 2], "nice": false, "zero": false},
             "axis": {"orient": "bottom", "title": "Frequency(Hz)", "titlePadding": 2,
                      "values": [1.5,1.525,1.55,1.575,1.6,1.625,1.65,1.675,1.7,1.725,1.75,1.775,1.8,1.825,1.85,1.875,1.9,1.925,1.95,1.975,2],
                      "labelExpr": "abs(datum.value*20 - round(datum.value*20)) < 0.001 ? format(datum.value, '~g') : ''",
                      "labelPadding": 6, "grid": true,
                      "gridOpacity": {"condition": {"test": "abs(datum.value*20 - round(datum.value*20)) < 0.001", "value": 1}, "value": 0}}},
       "y": {"field": "v", "type": "quantitative", "scale": {"domain": [-40, 0], "nice": false, "zero": false},
             "axis": {"orient": "left", "title": "S11 (dB)", "titlePadding": 7,
                      "values": [-40,-35,-30,-25,-20,-15,-10,-5,0],
                      "labelExpr": "datum.value % 10 == 0 ? format(datum.value, 'd') : ''",
                      "labelPadding": 5, "grid": true,
                      "gridOpacity": {"condition": {"test": "datum.value % 10 == 0", "value": 1}, "value": 0}}},
       "color": {"datum": "Inductive RX", "type": "nominal",
                 "scale": {"domain": ["Inductive RX", "Capcitive RX", "Resistive RX"], "range": ["#FF0000", "#000000", "#0072BD"]},
                 "legend": {"title": null, "orient": "none", "legendX": 645, "legendY": 95,
                            "symbolType": "M-1.7,0H1.7M0.6,0A0.6,0.6,0,1,1,-0.6,0A0.6,0.6,0,1,1,0.6,0",
                            "symbolSize": 400, "symbolStrokeWidth": 2, "symbolFillColor": "transparent", "symbolOffset": 9,
                            "labelFontSize": 17, "labelColor": "#000", "labelOffset": 12, "padding": 6, "rowPadding": 7,
                            "strokeColor": "#000", "fillColor": "#fff", "cornerRadius": 0, "zindex": 2,
                            "encode": {"legend": {"update": {"strokeWidth": {"value": 1.5}}}}}}
     }},
    {"data": {"name": "ind"}, "mark": {"type": "point", "shape": "circle", "filled": false, "size": 130, "strokeWidth": 2, "opacity": 1},
     "encoding": {
       "x": {"field": "f", "type": "quantitative", "scale": {"domain": [1.5, 2], "nice": false, "zero": false},
             "axis": {"orient": "top", "title": null, "labels": false, "zindex": 1, "grid": true, "gridDash": [7, 208, 7, 2000], "gridColor": "#000", "gridWidth": 1.5, "gridOpacity": 1,
                      "values": [1.5,1.525,1.55,1.575,1.6,1.625,1.65,1.675,1.7,1.725,1.75,1.775,1.8,1.825,1.85,1.875,1.9,1.925,1.95,1.975,2]}},
       "y": {"field": "v", "type": "quantitative", "scale": {"domain": [-40, 0], "nice": false, "zero": false},
             "axis": {"orient": "right", "title": null, "labels": false, "zindex": 1, "grid": true, "gridDash": [7, 806, 7, 2000], "gridColor": "#000", "gridWidth": 1.5, "gridOpacity": 1,
                      "values": [-40,-35,-30,-25,-20,-15,-10,-5,0]}},
       "color": {"datum": "Inductive RX", "type": "nominal"}
     }},
    {"data": {"name": "cap"}, "mark": {"type": "line", "strokeWidth": 2},
     "encoding": {"x": {"field": "f", "type": "quantitative", "scale": {"domain": [1.5, 2], "nice": false, "zero": false}, "axis": null}, "y": {"field": "v", "type": "quantitative", "scale": {"domain": [-40, 0], "nice": false, "zero": false}, "axis": null}, "color": {"datum": "Capcitive RX", "type": "nominal"}}},
    {"data": {"name": "cap"}, "mark": {"type": "point", "shape": "circle", "filled": false, "size": 130, "strokeWidth": 2, "opacity": 1},
     "encoding": {"x": {"field": "f", "type": "quantitative", "scale": {"domain": [1.5, 2], "nice": false, "zero": false}, "axis": null}, "y": {"field": "v", "type": "quantitative", "scale": {"domain": [-40, 0], "nice": false, "zero": false}, "axis": null}, "color": {"datum": "Capcitive RX", "type": "nominal"}}},
    {"data": {"name": "res"}, "mark": {"type": "line", "strokeWidth": 2},
     "encoding": {"x": {"field": "f", "type": "quantitative", "scale": {"domain": [1.5, 2], "nice": false, "zero": false}, "axis": null}, "y": {"field": "v", "type": "quantitative", "scale": {"domain": [-40, 0], "nice": false, "zero": false}, "axis": null}, "color": {"datum": "Resistive RX", "type": "nominal"}}},
    {"data": {"name": "res"}, "mark": {"type": "point", "shape": "circle", "filled": false, "size": 130, "strokeWidth": 2, "opacity": 1},
     "encoding": {"x": {"field": "f", "type": "quantitative", "scale": {"domain": [1.5, 2], "nice": false, "zero": false}, "axis": null}, "y": {"field": "v", "type": "quantitative", "scale": {"domain": [-40, 0], "nice": false, "zero": false}, "axis": null}, "color": {"datum": "Resistive RX", "type": "nominal"}}},
    {"data": {"values": [{"t": "x 10"}]}, "mark": {"type": "text", "align": "right", "baseline": "middle", "dx": -8, "fontSize": 15, "color": "#000"},
     "encoding": {"x": {"datum": 2.0, "type": "quantitative", "scale": {"domain": [1.5, 2], "nice": false, "zero": false}, "axis": null}, "y": {"datum": -47.39, "type": "quantitative", "scale": {"domain": [-40, 0], "nice": false, "zero": false}, "axis": null}, "text": {"field": "t"}}},
    {"data": {"values": [{"t": "9"}]}, "mark": {"type": "text", "align": "left", "baseline": "middle", "dx": -6, "fontSize": 11, "color": "#000"},
     "encoding": {"x": {"datum": 2.0, "type": "quantitative", "scale": {"domain": [1.5, 2], "nice": false, "zero": false}, "axis": null}, "y": {"datum": -46.13, "type": "quantitative", "scale": {"domain": [-40, 0], "nice": false, "zero": false}, "axis": null}, "text": {"field": "t"}}}
  ]
}
]
}
